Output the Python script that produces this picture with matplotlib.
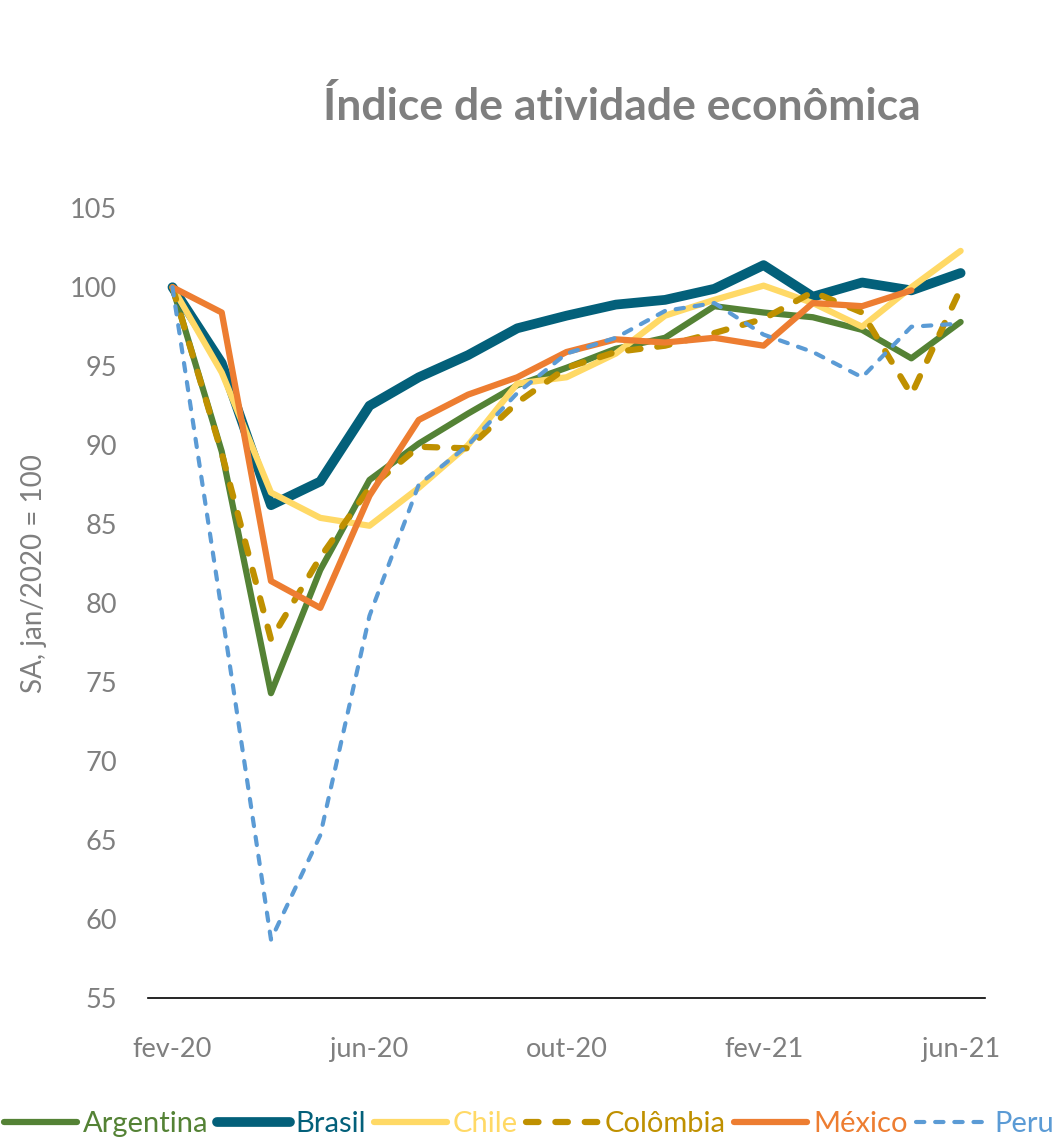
import matplotlib.pyplot as plt

plt.rcParams["font.family"] = ["Lato", "DejaVu Sans"]

months = ["fev-20", "mar-20", "abr-20", "mai-20", "jun-20", "jul-20", "ago-20", "set-20",
          "out-20", "nov-20", "dez-20", "jan-21", "fev-21", "mar-21", "abr-21", "mai-21", "jun-21"]
tick_labels = ["fev-20", "jun-20", "out-20", "fev-21", "jun-21"]

argentina = [100, 89.6, 74.3, 82.1, 87.8, 90.1, 92.0, 93.8, 94.9, 96.1, 96.8, 98.8, 98.4, 98.1, 97.3, 95.5, 97.8]
brasil = [100, 95.2, 86.2, 87.7, 92.5, 94.3, 95.7, 97.4, 98.2, 98.9, 99.2, 99.9, 101.4, 99.4, 100.3, 99.8, 100.9]
chile = [100, 94.6, 87.0, 85.4, 84.9, 87.3, 90.0, 93.9, 94.3, 95.8, 98.2, 99.2, 100.1, 99.0, 97.5, 100.0, 102.3]
colombia = [100, 89.5, 77.7, 82.9, 87.3, 89.9, 89.8, 92.7, 94.9, 95.9, 96.3, 97.1, 98.0, 99.7, 98.4, 93.2, 99.9]
mexico = [100, 98.4, 81.4, 79.7, 86.8, 91.6, 93.2, 94.3, 95.9, 96.7, 96.5, 96.8, 96.3, 99.0, 98.8, 99.8]
peru = [100, 79.5, 58.7, 65.3, 79.2, 87.5, 90.0, 93.3, 95.8, 96.8, 98.5, 99.0, 97.0, 95.9, 94.3, 97.5, 97.7]

GRAY = "#7F7F7F"

fig = plt.figure(figsize=(10.56, 11.38), dpi=100)
ax = fig.add_axes([0.140, 0.123, 0.793, 0.694])

x = list(range(len(months)))
series = [
    ("Argentina", argentina, dict(color="#548235", lw=4.5)),
    ("Brasil", brasil, dict(color="#03607A", lw=7)),
    ("Chile", chile, dict(color="#FFD966", lw=4.5)),
    ("Colômbia", colombia, dict(color="#BF9000", lw=4.5, dashes=(2, 2.7))),
    ("México", mexico, dict(color="#ED7D31", lw=4.5)),
    ("Peru", peru, dict(color="#5B9BD5", lw=3, dashes=(2.0, 2.6))),
]
handles = []
for name, vals, st in series:
    ln, = ax.plot(x[:len(vals)], vals, label=name, solid_capstyle="round",
                  dash_capstyle="round", solid_joinstyle="round", **st)
    handles.append(ln)

ax.set_xlim(-0.5, 16.5)
ax.set_ylim(55, 105)
ax.set_yticks(range(55, 106, 5))
ax.set_xticks([months.index(t) for t in tick_labels])
ax.set_xticklabels(tick_labels)
ax.tick_params(axis="both", length=0, labelsize=19.5, labelcolor=GRAY)
ax.tick_params(axis="y", pad=22)
ax.tick_params(axis="x", pad=28)
for s in ["top", "right", "left"]:
    ax.spines[s].set_visible(False)
ax.spines["bottom"].set_color("black")
ax.spines["bottom"].set_linewidth(1.2)

ax.set_ylabel("SA, jan/2020 = 100", fontsize=20, color=GRAY)
ax.yaxis.set_label_coords(-0.12, 0.538)
fig.text(0.589, 0.906, "Índice de atividade econômica", ha="center", va="center",
         fontsize=32, fontweight="bold", color=GRAY)

leg = fig.legend(handles=handles, loc="center left", bbox_to_anchor=(0.0, 0.0125),
                 ncol=6, frameon=False, fontsize=21, handlelength=2.5,
                 handletextpad=0.2, columnspacing=0.28, borderaxespad=0, borderpad=0.15)
for txt, (_, _, st) in zip(leg.get_texts(), series):
    txt.set_color(st["color"])

fig.savefig("out.png", dpi=100)
